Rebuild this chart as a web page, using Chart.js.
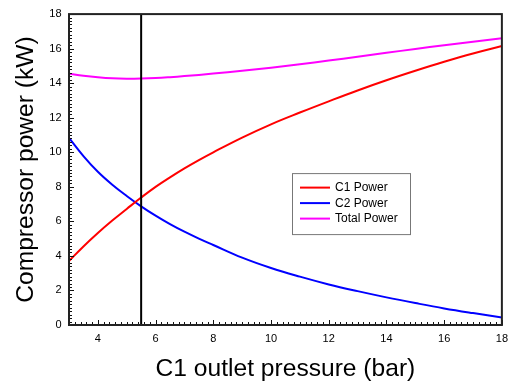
<!DOCTYPE html>
<html lang="en">
<head>
  <meta charset="UTF-8">
  <title>Compressor power vs C1 outlet pressure</title>
  <style>
    body {
      margin: 0;
      background-color: #fff;
    }
    #wrap {
      width: 515px;
      height: 382px;
    }
  </style>
</head>
<body>

  <div id="wrap"><canvas id="chart" width="515" height="382"></canvas></div>

  <script src="https://cdn.jsdelivr.net/npm/chart.js"></script>
  <script>
    // C1 outlet pressure (bar)
    const pressure = [3, 3.5, 4, 4.5, 5, 5.5, 6, 6.5, 7, 7.5, 8, 9, 10, 11, 12, 13, 14, 15, 16, 17, 18];
    // compressor power (kW)
    const c1Power = [3.7, 4.55, 5.33, 6.05, 6.72, 7.38, 8.0, 8.55, 9.07, 9.55, 10.0, 10.85, 11.62, 12.3, 12.95, 13.58, 14.17, 14.72, 15.24, 15.72, 16.15];
    const c2Power = [10.83, 9.78, 8.87, 8.12, 7.47, 6.87, 6.33, 5.84, 5.4, 5.0, 4.63, 3.9, 3.3, 2.8, 2.35, 1.96, 1.6, 1.27, 0.96, 0.69, 0.44];
    const totalPower = [14.55, 14.43, 14.34, 14.28, 14.26, 14.27, 14.3, 14.35, 14.41, 14.48, 14.56, 14.72, 14.9, 15.1, 15.31, 15.53, 15.76, 15.98, 16.2, 16.4, 16.6];

    // vertical marker at the chosen pressure
    const markerX = [5.5, 5.5];
    const markerY = [0, 18];

    const xTicks = [4, 6, 8, 10, 12, 14, 16, 18];
    const yTicks = [0, 2, 4, 6, 8, 10, 12, 14, 16, 18];

    const seriesNames = ['C1 Power', 'C2 Power', 'Total Power'];
    const seriesColors = ['#ff0000', '#0000ff', '#ff00ff'];

    const FONT = "'Liberation Sans', Arial, sans-serif";

    const toPoints = (xs, ys) => xs.map((x, i) => ({ x: x, y: ys[i] }));

    // frame + inward tick marks (only left and bottom sides)
    const framePlugin = {
      id: 'frame',
      afterDatasetsDraw(chart) {
        const { ctx, chartArea: a, scales: { x, y } } = chart;
        ctx.save();
        ctx.strokeStyle = '#111';
        ctx.lineWidth = 1;
        ctx.beginPath();
        // minor every 0.2, major on tick values
        for (let v = 3; v <= 18.001; v += 0.2) {
          const px = Math.round(x.getPixelForValue(v)) + 0.5;
          const major = xTicks.some(t => Math.abs(t - v) < 0.01);
          ctx.moveTo(px, a.bottom);
          ctx.lineTo(px, a.bottom - (major ? 5 : 3));
        }
        for (let v = 0; v <= 18.001; v += 0.2) {
          const py = Math.round(y.getPixelForValue(v)) + 0.5;
          const major = yTicks.some(t => Math.abs(t - v) < 0.01);
          ctx.moveTo(a.left, py);
          ctx.lineTo(a.left + (major ? 5 : 3), py);
        }
        ctx.stroke();

        ctx.lineWidth = 2;
        ctx.strokeStyle = '#222';
        ctx.strokeRect(a.left, a.top, a.right - a.left, a.bottom - a.top);
        ctx.restore();
      }
    };

    // legend box inside the plot
    const legendPlugin = {
      id: 'boxLegend',
      afterDraw(chart) {
        const { ctx, chartArea: a } = chart;
        const bx = a.left + 223, by = a.top + 159, bw = 118, bh = 61;
        ctx.save();
        ctx.fillStyle = '#fff';
        ctx.fillRect(bx, by, bw, bh);
        ctx.strokeStyle = '#777';
        ctx.lineWidth = 1;
        ctx.strokeRect(bx + 0.5, by + 0.5, bw, bh);
        ctx.font = '12px ' + FONT;
        ctx.textBaseline = 'middle';
        ctx.fillStyle = '#000';
        seriesNames.forEach((name, i) => {
          const ry = by + 14.5 + i * 15.5;
          ctx.strokeStyle = seriesColors[i];
          ctx.lineWidth = 2;
          ctx.beginPath();
          ctx.moveTo(bx + 8, ry);
          ctx.lineTo(bx + 38, ry);
          ctx.stroke();
          ctx.fillText(name, bx + 43, ry + 0.5);
        });
        ctx.restore();
      }
    };

    const lineStyle = (color) => ({
      borderColor: color,
      backgroundColor: color,
      borderWidth: 2,
      pointRadius: 0,
      tension: 0.4,
      fill: false
    });

    new Chart(document.getElementById('chart'), {
      type: 'line',
      data: {
        datasets: [
          Object.assign({ label: 'marker', data: toPoints(markerX, markerY), order: -1 }, lineStyle('#000')),
          Object.assign({ label: seriesNames[0], data: toPoints(pressure, c1Power) }, lineStyle(seriesColors[0])),
          Object.assign({ label: seriesNames[1], data: toPoints(pressure, c2Power) }, lineStyle(seriesColors[1])),
          Object.assign({ label: seriesNames[2], data: toPoints(pressure, totalPower) }, lineStyle(seriesColors[2]))
        ]
      },
      options: {
        responsive: false,
        animation: false,
        events: [],
        layout: { padding: { top: 13, right: 11, left: 0, bottom: 0 } },
        plugins: {
          legend: { display: false },
          tooltip: { enabled: false }
        },
        scales: {
          x: {
            type: 'linear',
            position: 'bottom',
            min: 3,
            max: 18,
            grid: { display: false, drawTicks: false },
            border: { display: false },
            afterBuildTicks: (s) => { s.ticks = xTicks.map(v => ({ value: v })); },
            afterFit: (s) => { s.height = 57; },
            ticks: {
              padding: 7,
              color: '#000',
              font: { family: FONT, size: 11 }
            },
            title: {
              display: true,
              text: 'C1 outlet pressure (bar)',
              color: '#000',
              font: { family: FONT, size: 24.6, lineHeight: 1 },
              padding: { top: 0, bottom: 0 }
            }
          },
          y: {
            type: 'linear',
            min: 0,
            max: 18,
            grid: { display: false, drawTicks: false },
            border: { display: false },
            afterBuildTicks: (s) => { s.ticks = yTicks.map(v => ({ value: v })); },
            afterFit: (s) => { s.width = 69; },
            ticks: {
              padding: 7.5,
              color: '#000',
              font: { family: FONT, size: 11 }
            },
            title: {
              display: true,
              text: 'Compressor power (kW)',
              color: '#000',
              font: { family: FONT, size: 24.6, lineHeight: 1 },
              padding: { top: 14, bottom: 0 }
            }
          }
        }
      },
      plugins: [framePlugin, legendPlugin]
    });
  </script>

</body>
</html>
